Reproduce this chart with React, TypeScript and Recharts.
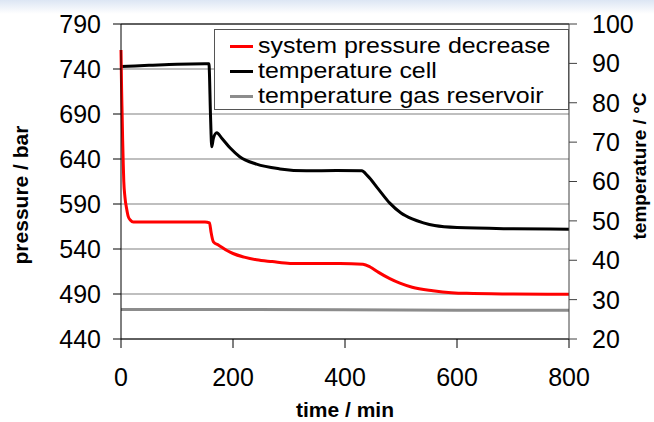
import React from 'react';
import {
  LineChart,
  Line,
  XAxis,
  YAxis,
  CartesianGrid,
  Label,
  ReferenceLine,
} from 'recharts';

// ---- data ----
const pressureTime = [0, 1, 2, 3, 4, 5, 7, 10, 13, 17, 22, 40, 80, 120, 150, 158, 161, 165, 175, 190, 200, 220, 242, 270, 302, 340, 391, 432, 445, 460, 480, 498, 520, 557, 590, 617, 700, 800];
const pressureValues = [761, 720, 690, 660, 635, 615, 598, 585, 576, 572, 570, 570, 570, 570, 570, 569, 558, 548, 544, 538, 535, 531, 528, 526, 524, 524, 524, 523, 520, 514, 507, 502, 497.5, 493.7, 491.5, 490.7, 490, 489.6];

const cellTime = [0, 50, 100, 150, 157, 160, 162, 165, 171, 180, 195, 212, 242, 284, 331, 385, 430, 440, 460, 480, 500, 520, 540, 560, 600, 700, 800];
const cellValues = [89.2, 89.5, 89.8, 89.9, 89.9, 76, 68.8, 71, 72.4, 71, 68.5, 66.3, 64.4, 63.2, 62.7, 62.8, 62.7, 61.5, 58, 54.5, 52, 50.5, 49.5, 48.8, 48.3, 48.0, 47.9];

const gasTime = [0, 200, 400, 600, 800];
const gasValues = [27.5, 27.5, 27.4, 27.3, 27.3];

const xTicks = [0, 200, 400, 600, 800];
const pressureTicks = [440, 490, 540, 590, 640, 690, 740, 790];
const tempTicks = [20, 30, 40, 50, 60, 70, 80, 90, 100];

const seriesNames = ['system pressure decrease', 'temperature cell', 'temperature gas reservoir'];
const seriesColors = ['#ff0000', '#000000', '#8c8c8c'];

const pressureData = pressureTime.map((t, i) => ({ t, v: pressureValues[i] }));
const cellData = cellTime.map((t, i) => ({ t, v: cellValues[i] }));
const gasData = gasTime.map((t, i) => ({ t, v: gasValues[i] }));

const FONT = '"Liberation Sans", Arial, sans-serif';

const LegendBox = () => (
  <div
    style={{
      position: 'absolute',
      left: 214,
      top: 29,
      width: 355,
      height: 81,
      boxSizing: 'border-box',
      border: '1px solid #555',
      background: '#fff',
      paddingTop: 4,
      fontFamily: FONT,
      fontSize: 21.5,
      color: '#000',
    }}
  >
    {seriesNames.map((n, i) => (
      <div key={n} style={{ display: 'flex', alignItems: 'center', height: 25, whiteSpace: 'nowrap' }}>
        <div style={{ width: 23, height: 3, background: seriesColors[i], marginLeft: 15, marginRight: 5, flex: 'none' }} />
        <span
          style={{
            lineHeight: '25px',
            display: 'inline-block',
            transform: 'scaleX(1.16)',
            transformOrigin: 'left center',
          }}
        >
          {n}
        </span>
      </div>
    ))}
  </div>
);

export default function App() {
  return (
    <div
      style={{
        position: 'absolute',
        left: 0,
        top: 0,
        width: 654,
        height: 422,
        background: 'linear-gradient(to bottom, #dce6f4 0px, #ffffff 14px)',
      }}
    >
      <LineChart width={654} height={422} margin={{ top: 24, right: 0, bottom: 0, left: 0 }}>
        <CartesianGrid vertical={false} yAxisId="left" stroke="#808080" strokeWidth={1.2} />
        <XAxis
          dataKey="t"
          type="number"
          domain={[0, 800]}
          ticks={xTicks}
          interval={0}
          height={83}
          stroke="#000"
          tickSize={9}
          tickMargin={20}
          tick={{ fill: '#000', fontSize: 25, fontFamily: FONT }}
          allowDuplicatedCategory={false}
        >
          <Label
            content={() => (
              <text x={345} y={417} textAnchor="middle" fontFamily={FONT} fontWeight="bold" fontSize={21} fill="#000">
                time / min
              </text>
            )}
          />
        </XAxis>
        <YAxis
          yAxisId="left"
          orientation="left"
          domain={[440, 790]}
          ticks={pressureTicks}
          interval={0}
          width={121}
          stroke="#000"
          tickSize={8}
          tickMargin={12}
          tick={{ fill: '#000', fontSize: 25, fontFamily: FONT }}
        >
          <Label
            content={() => (
              <text
                x={0}
                y={0}
                transform="translate(28,195) rotate(-90)"
                textAnchor="middle"
                fontFamily={FONT}
                fontWeight="bold"
                fontSize={21}
                fill="#000"
              >
                pressure / bar
              </text>
            )}
          />
        </YAxis>
        <YAxis
          yAxisId="right"
          orientation="right"
          domain={[20, 100]}
          ticks={tempTicks}
          interval={0}
          width={85}
          stroke="#404040"
          tickSize={8}
          tickMargin={15}
          tick={{ fill: '#000', fontSize: 25, fontFamily: FONT }}
        >
          <Label
            content={() => (
              <text
                x={0}
                y={0}
                transform="translate(646,166) rotate(-90)"
                textAnchor="middle"
                fontFamily={FONT}
                fontWeight="bold"
                fontSize={19}
                fill="#000"
              >
                temperature / °C
              </text>
            )}
          />
        </YAxis>
        <ReferenceLine yAxisId="left" y={790} stroke="#000" strokeWidth={1} />
        <Line
          data={gasData}
          yAxisId="right"
          dataKey="v"
          name={seriesNames[2]}
          stroke={seriesColors[2]}
          strokeWidth={3}
          dot={false}
          type="linear"
          isAnimationActive={false}
        />
        <Line
          data={cellData}
          yAxisId="right"
          dataKey="v"
          name={seriesNames[1]}
          stroke={seriesColors[1]}
          strokeWidth={3}
          dot={false}
          type="monotone"
          isAnimationActive={false}
        />
        <Line
          data={pressureData}
          yAxisId="left"
          dataKey="v"
          name={seriesNames[0]}
          stroke={seriesColors[0]}
          strokeWidth={3}
          dot={false}
          type="monotone"
          isAnimationActive={false}
        />
      </LineChart>
      <LegendBox />
    </div>
  );
}
